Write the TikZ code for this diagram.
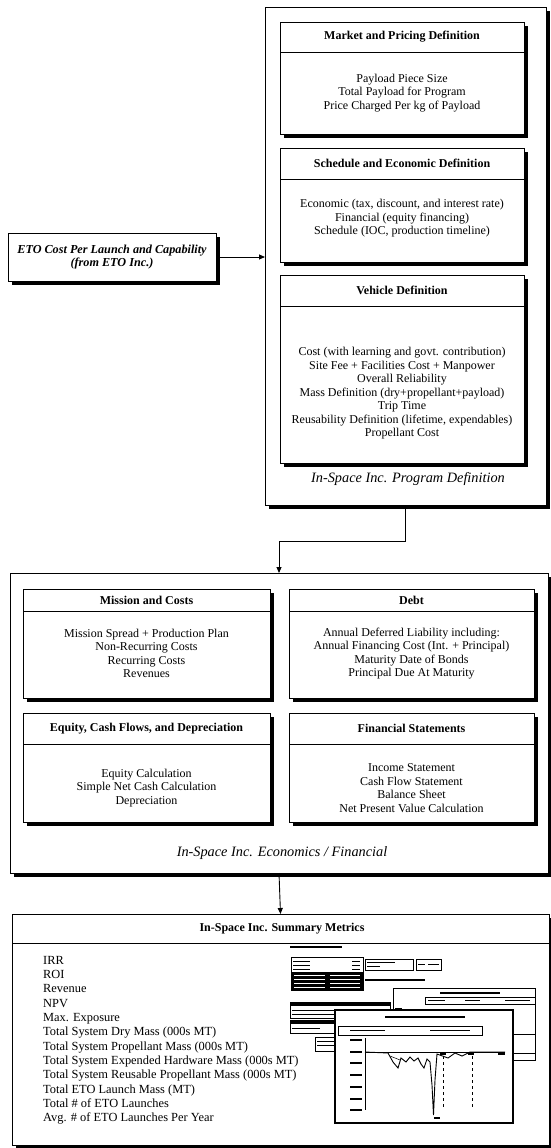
\documentclass[tikz,border=0pt]{standalone}
\usepackage{fontspec}
\setmainfont{Liberation Serif}
\usetikzlibrary{arrows.meta,shadows,calc}
\tikzset{
  shad/.style={drop shadow={shadow xshift=4pt, shadow yshift=-4pt, fill=black, opacity=1}},
  frame/.style={draw, fill=white, line width=0.9pt, inner sep=0pt, outer sep=0pt, shad},
  hdr/.style={font=\bfseries\fontsize{12}{14}\selectfont, inner sep=0pt},
  bodytxt/.style={font=\fontsize{12}{13.5}\selectfont, align=center, inner sep=0pt},
  lbl/.style={font=\itshape\fontsize{14.3}{16}\selectfont, inner sep=0pt},
  arr/.style={line width=0.9pt, -{Triangle[length=6pt,width=5pt]}},
  thin/.style={line width=0.5pt},
  fake/.style={line width=1.2pt},
}
\newcommand\subbox[9]{%
  \node[frame, anchor=north west, minimum width={#4-#2}, minimum height={#5-#3}] (#1) at (#2,#3) {};
  \draw[line width=0.9pt] (#2,#6) -- (#4,#6);
  \node[hdr] (#1-h) at ({(#2+#4)/2},{(#3+#6)/2}) {#7};
  \node[bodytxt] (#1-b) at ({(#2+#4)/2},{(#6+#5)/2+#9}) {#8};
}
\begin{document}
\begin{tikzpicture}[x=1pt,y=-1pt]
\useasboundingbox[fill=white] (0,0) rectangle (551,1148);

% ---------- Program definition ----------
\node[frame, anchor=north west, minimum width=281, minimum height=498] (prog) at (265,7) {};
\subbox{market}{280}{22}{524}{134}{52}{Market and Pricing Definition}{Payload Piece Size\\Total Payload for Program\\Price Charged Per kg of Payload}{0}
\subbox{sched}{280}{148}{524}{262}{179}{Schedule and Economic Definition}{Economic (tax, discount, and interest rate)\\Financial (equity financing)\\Schedule (IOC, production timeline)}{-2}
\subbox{vehicle}{280}{275}{524}{463}{306}{Vehicle Definition}{Cost (with learning and govt. contribution)\\Site Fee + Facilities Cost + Manpower\\Overall Reliability\\Mass Definition (dry+propellant+payload)\\Trip Time\\Reusability Definition (lifetime, expendables)\\Propellant Cost}{9}
\node[lbl] (proglbl) at (408,479) {In-Space Inc. Program Definition};

% ---------- ETO ----------
\node[frame, anchor=north west, minimum width=208, minimum height=48, align=center,
      font=\bfseries\itshape\fontsize{12.2}{13.5}\selectfont] (eto) at (8,233)
      {ETO Cost Per Launch and Capability\\(from ETO Inc.)};

% ---------- Economics ----------
\node[frame, anchor=north west, minimum width=538, minimum height=300] (econ) at (10,573) {};
\subbox{mission}{23}{589}{270}{698}{611}{Mission and Costs}{Mission Spread + Production Plan\\Non-Recurring Costs\\Recurring Costs\\Revenues}{-1}
\subbox{debt}{289}{589}{534}{698}{611}{Debt}{Annual Deferred Liability including:\\Annual Financing Cost (Int. + Principal)\\Maturity Date of Bonds\\Principal Due At Maturity}{-1}
\subbox{equity}{23}{713}{270}{822}{744}{Equity, Cash Flows, and Depreciation}{Equity Calculation\\Simple Net Cash Calculation\\Depreciation}{5}
\subbox{fin}{289}{713}{534}{822}{744}{Financial Statements}{Income Statement\\Cash Flow Statement\\Balance Sheet\\Net Present Value Calculation}{5}
\node[lbl] (econlbl) at (282,853) {In-Space Inc. Economics / Financial};

% ---------- Summary ----------
\node[frame, anchor=north west, minimum width=537, minimum height=231] (summ) at (12,914) {};
\draw[line width=0.9pt] (summ.west |- 0,943) -- (summ.east |- 0,943);
\node[hdr] (summh) at (282,929) {In-Space Inc. Summary Metrics};
\node[anchor=north west, align=left, inner sep=0pt, font=\fontsize{12.4}{14.3}\selectfont] (summlist) at (43,956)
 {IRR\\ROI\\Revenue\\NPV\\Max. Exposure\\Total System Dry Mass (000s MT)\\Total System Propellant Mass (000s MT)\\Total System Expended Hardware Mass (000s MT)\\Total System Reusable Propellant Mass (000s MT)\\Total ETO Launch Mass (MT)\\Total \# of ETO Launches\\Avg. \# of ETO Launches Per Year};

% screenshot inset (drawn shapes)
\draw[fake] (290,947) -- (342,947);
\draw[thin] (291,957) rectangle (363,990);
\foreach \yy in {961,965,969} {\draw[thin] (293,\yy) -- (310,\yy); \draw[thin] (352,\yy) -- (360,\yy);}
\fill (291,972) rectangle (363,990);
\foreach \yy in {975,979,983,987} {\draw[white,thin] (294,\yy) -- (325,\yy); \draw[white,thin] (330,\yy) -- (360,\yy);}
\draw[thin] (365,959) rectangle (413,970);
\draw[thin] (367,962) -- (395,962); \draw[thin] (367,966) -- (380,966);
\draw[thin] (416,959) rectangle (441,970);
\draw[thin] (418,964) -- (425,964); \draw[thin] (428,964) -- (439,964);
\draw[fake] (365,980) -- (425,980);
\draw[thin] (290,1002) rectangle (390,1018);
\fill (290,1002) rectangle (390,1006);
\draw[thin] (292,1010) -- (340,1010); \draw[thin] (292,1014) -- (360,1014);
\draw[thin] (290,1020) rectangle (335,1033);
\fill (290,1020) rectangle (335,1024);
\draw[thin] (292,1028) -- (320,1028);
\draw[thin] (315,1037) rectangle (337,1051);
\draw[thin] (317,1041) -- (334,1041); \draw[thin] (317,1045) -- (334,1045);
% back window
\draw[line width=0.8pt, fill=white] (393,988) rectangle (535,1060);
\draw[fake] (440,993) -- (500,993);
\draw[thin] (425,997) rectangle (535,1004);
\draw[thin] (428,1000.5) -- (445,1000.5); \draw[thin] (465,1000.5) -- (480,1000.5); \draw[thin] (505,1000.5) -- (530,1000.5);
\draw[thin] (395,1008) -- (402,1008);
\draw[line width=0.8pt] (505,1034) -- (535,1034);
\draw[line width=0.8pt] (505,1053) -- (535,1053);
% front window
\draw[line width=1.2pt, fill=white] (335,1010) rectangle (513,1123);
\draw[fake] (385,1017) -- (465,1017);
\draw[thin] (338,1026) rectangle (482,1035);
\draw[thin] (350,1030.5) -- (385,1030.5); \draw[thin] (430,1030.5) -- (470,1030.5);
\draw[line width=0.7pt] (365,1038) -- (365,1110);
\foreach \yy in {1040,1052,1063,1075,1087,1099,1110} {\draw[fake] (350,\yy) -- (362,\yy);}
\draw[line width=0.7pt] (365,1052) -- (505,1052);
\draw[fake] (440,1054) -- (446,1054); \draw[fake] (468,1054) -- (474,1054); \draw[fake] (498,1054) -- (505,1054);
\draw[dashed, thin] (443,1056) -- (443,1108);
\draw[dashed, thin] (472,1056) -- (472,1108);
\draw[thin] (390,1056) -- (400,1060);
\draw[line width=0.9pt] (365,1052) -- (388,1053) -- (393,1062) -- (398,1068) -- (401,1058) -- (406,1062) -- (410,1057) -- (414,1061) -- (418,1058) -- (421,1064) -- (424,1068) -- (427,1059) -- (430,1062) -- (432,1085) -- (433.5,1115) -- (435,1080) -- (437,1054) -- (448,1058) -- (455,1053) -- (462,1056) -- (470,1052) -- (505,1052);
\draw[fake] (434,1118) -- (440,1118);

% ---------- connectors ----------
\draw[arr] (eto.east) -- (eto.east -| prog.west);
\draw[arr] (prog.south) -- ++(0,36) -| (econ.north);
\draw[arr] (econ.south) -- (summ.north);
\end{tikzpicture}
\end{document}
